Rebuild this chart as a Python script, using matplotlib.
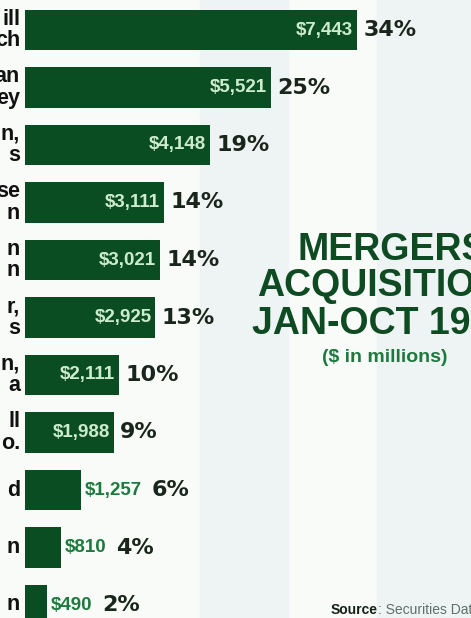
import matplotlib.pyplot as plt
from matplotlib.patches import Rectangle

# data (left labels are cut off by the crop)
labels = ['ill\nch', 'an\ney', 'n,\ns', 'se\nn', 'n\nn', 'r,\ns',
          'n,\na', 'll\no.', 'd', 'n', 'n']
values = [7443, 5521, 4148, 3111, 3021, 2925, 2111, 1988, 1257, 810, 490]
value_labels = ['$7,443', '$5,521', '$4,148', '$3,111', '$3,021', '$2,925',
                '$2,111', '$1,988', '$1,257', '$810', '$490']
pcts = ['34%', '25%', '19%', '14%', '14%', '13%', '10%', '9%', '6%', '4%', '2%']
title_lines = ['MERGERS', 'ACQUISITIONS', 'JAN-OCT 199']

W, H = 471, 618
bar_col = '#0b4d23'
in_col = '#cdeccf'
out_col = '#1d7a3d'
pct_col = '#1a261c'
title_col = '#0e4a22'
sans = ['Liberation Sans', 'DejaVu Sans']

fig = plt.figure(figsize=(W / 100, H / 100), dpi=100)
fig.patch.set_facecolor('#f9fbf9')
# faint grey-blue vertical bands of the scanned page, behind everything
for x0, x1 in [(200, 288), (377, 471)]:
    fig.patches.append(Rectangle((x0 / W, 0), (x1 - x0) / W, 1,
                                 transform=fig.transFigure,
                                 color='#eef3f4', zorder=-5))

ax = fig.add_axes([0, 0, 1, 1])
ax.set_facecolor('none')
px = 0.04461  # pixels per $ million
ax.set_xlim(-25 / px, (W - 25) / px)
ax.set_ylim((H - 30) / 57.5, -30 / 57.5)
ax.axis('off')

ypos = list(range(len(values)))
ax.barh(ypos, values, height=0.70, color=bar_col, zorder=2)

for i, (v, vl, p, lab) in enumerate(zip(values, value_labels, pcts, labels)):
    ax.text(-5 / px, i, lab, ha='right', va='center', fontsize=15.5,
            fontweight='bold', family=sans, color='#111111', linespacing=1.05)
    if v > 1500:
        ax.text(v - 4 / px, i, vl, ha='right', va='center', fontsize=13.5,
                fontweight='bold', family=sans, color=in_col, zorder=3)
        ax.annotate(p, xy=(v, i), xytext=(4.5, 0), textcoords='offset points',
                    ha='left', va='center', fontsize=16, fontweight='bold',
                    family=['DejaVu Sans'], color=pct_col)
    else:
        t = ax.text(v + 4 / px, i, vl, ha='left', va='center', fontsize=13.5,
                    fontweight='bold', family=sans, color=out_col, zorder=3)
        ax.annotate(p, xy=(1, 0.5), xycoords=t, xytext=(7, 0),
                    textcoords='offset points', ha='left', va='center',
                    fontsize=16, fontweight='bold', family=['DejaVu Sans'],
                    color=pct_col)

# title block, partly cut off by the right edge
title_x = [297, 257, 252]
title_y = [250, 286, 324]
for s, x, y in zip(title_lines, title_x, title_y):
    fig.text(x / W, 1 - y / H, s, ha='left', va='center', fontsize=27,
             fontweight='bold', family=sans, color=title_col)
fig.text(322 / W, 1 - 358 / H, '($ in millions)', ha='left', va='center',
         fontsize=14, fontweight='bold', family=sans, color=out_col)

src = ax.text(331 / W, 1 - 610 / H, 'Source', transform=fig.transFigure,
              ha='left', va='center', fontsize=10, fontweight='bold',
              family=sans, color='#142018')
ax.annotate(': Securities Data Co.', xy=(1, 0.5), xycoords=src,
            ha='left', va='center', fontsize=10, family=sans, color='#5f7068')

fig.savefig('out.png', dpi=100, facecolor=fig.get_facecolor())
